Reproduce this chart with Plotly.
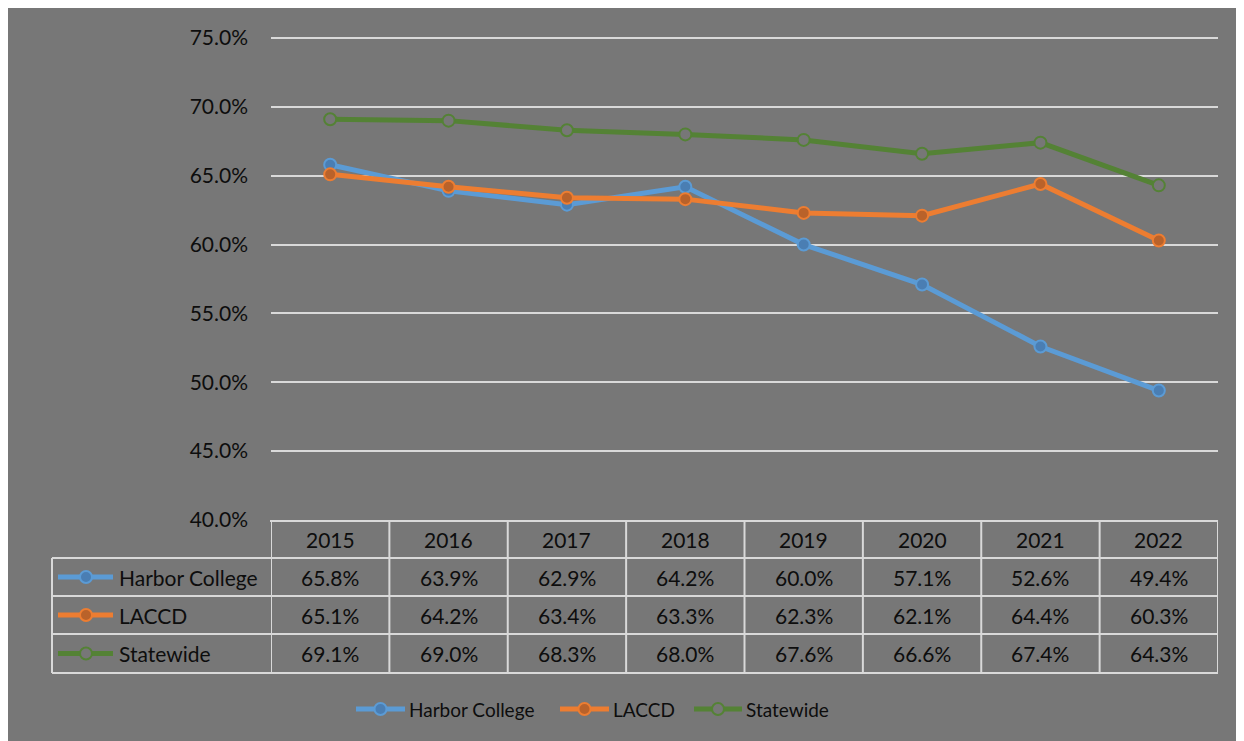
import plotly.graph_objects as go

years = ["2015", "2016", "2017", "2018", "2019", "2020", "2021", "2022"]
harbor = [65.8, 63.9, 62.9, 64.2, 60.0, 57.1, 52.6, 49.4]
laccd = [65.1, 64.2, 63.4, 63.3, 62.3, 62.1, 64.4, 60.3]
statewide = [69.1, 69.0, 68.3, 68.0, 67.6, 66.6, 67.4, 64.3]
series_names = ["Harbor College", "LACCD", "Statewide"]
y_ticks = [40, 45, 50, 55, 60, 65, 70, 75]

# page offset of the figure (browser body margin)
OX, OY = 8, 8
W, H = 1236, 733
L, R, T, B = 263, 26, 30, 221
PW, PH = W - L - R, H - T - B
FONT = "Lato, Carlito, Calibri, sans-serif"
TXT = "#0d0d0d"
BG = "#777777"
GRID = "#d9d9d9"
FS = 21
LEG_FS = 19


def px_x(p):
    return (p - OX - L) / PW


def px_y(p):
    return (H - B - (p - OY)) / PH


styles = [
    dict(line="#5b9bd5", fill="#4a7eb3"),
    dict(line="#ed7d31", fill="#b9622a"),
    dict(line="#548235", fill=BG),
]
data = [harbor, laccd, statewide]

fig = go.Figure()
for name, vals, st in zip(series_names, data, styles):
    fig.add_trace(go.Scatter(
        x=list(range(len(years))), y=vals, name=name, mode="lines+markers",
        line=dict(color=st["line"], width=5),
        marker=dict(size=12, color=st["fill"], line=dict(color=st["line"], width=2)),
        hoverinfo="skip", showlegend=False,
    ))

shapes = []
annotations = []

# top gridline at the axis maximum (plotly drops gridlines on the range edge)
shapes.append(dict(type="line", xref="paper", yref="paper", x0=0, x1=1, y0=1, y1=1,
                   layer="below", line=dict(color=GRID, width=2)))

# table geometry (page pixels)
tbl_left, tbl_mid, tbl_right = 52, 270, 1218
row_lines = [521, 558, 596, 634, 673]
line_style = dict(color=GRID, width=2)
shapes.append(dict(type="line", xref="paper", yref="paper", x0=px_x(tbl_mid), x1=px_x(tbl_right),
                   y0=px_y(row_lines[0]), y1=px_y(row_lines[0]), line=line_style))
for ry in row_lines[1:]:
    shapes.append(dict(type="line", xref="paper", yref="paper", x0=px_x(tbl_left), x1=px_x(tbl_right),
                       y0=px_y(ry), y1=px_y(ry), line=line_style))
shapes.append(dict(type="line", xref="paper", yref="paper", x0=px_x(tbl_left), x1=px_x(tbl_left),
                   y0=px_y(row_lines[1]), y1=px_y(row_lines[-1]), line=line_style))
for i in range(len(years) + 1):
    shapes.append(dict(type="line", xref="x", yref="paper", x0=i - 0.5, x1=i - 0.5,
                       y0=px_y(row_lines[0]), y1=px_y(row_lines[-1]), line=line_style))

hdr_y = (row_lines[0] + row_lines[1]) / 2
for i, yr in enumerate(years):
    annotations.append(dict(x=i, y=px_y(hdr_y), xref="x", yref="paper", text=yr, showarrow=False,
                            font=dict(family=FONT, size=FS, color=TXT), xanchor="center", yanchor="middle"))


def legend_key(x0, x1, xm, cy, st):
    shapes.append(dict(type="line", xref="paper", yref="paper", x0=px_x(x0), x1=px_x(x1),
                       y0=px_y(cy), y1=px_y(cy), line=dict(color=st["line"], width=5)))
    shapes.append(dict(type="circle", xref="paper", yref="paper", xsizemode="pixel", ysizemode="pixel",
                       xanchor=px_x(xm), yanchor=px_y(cy), x0=-6, x1=6, y0=-6, y1=6,
                       fillcolor=st["fill"], line=dict(color=st["line"], width=2)))


for r, (name, vals, st) in enumerate(zip(series_names, data, styles)):
    cy = (row_lines[r + 1] + row_lines[r + 2]) / 2
    legend_key(58, 113, 86, cy, st)
    annotations.append(dict(x=px_x(117), y=px_y(cy), xref="paper", yref="paper", text=name, showarrow=False,
                            font=dict(family=FONT, size=FS, color=TXT), xanchor="left", yanchor="middle"))
    for i, v in enumerate(vals):
        annotations.append(dict(x=i, y=px_y(cy), xref="x", yref="paper", text=f"{v:.1f}%", showarrow=False,
                                font=dict(family=FONT, size=FS, color=TXT), xanchor="center", yanchor="middle"))

# bottom legend (page pixel positions of each key)
leg_y = 709
leg_keys = [(356, 405), (560, 609), (694, 742)]
for (k0, k1), name, st in zip(leg_keys, series_names, styles):
    legend_key(k0, k1, (k0 + k1) / 2, leg_y, st)
    annotations.append(dict(x=px_x(k1 + 2), y=px_y(leg_y), xref="paper", yref="paper", text=name,
                            showarrow=False, font=dict(family=FONT, size=LEG_FS, color=TXT),
                            xanchor="left", yanchor="middle"))

fig.update_layout(
    width=W, height=H,
    margin=dict(l=L, r=R, t=T, b=B),
    paper_bgcolor=BG, plot_bgcolor=BG,
    font=dict(family=FONT, size=FS, color=TXT),
    shapes=shapes, annotations=annotations,
    showlegend=False,
    xaxis=dict(range=[-0.5, len(years) - 0.5], showticklabels=False, showgrid=False,
               zeroline=False, showline=False, ticks=""),
    yaxis=dict(range=[y_ticks[0], y_ticks[-1]], tickvals=y_ticks,
               ticktext=[f"{t:.1f}%" for t in y_ticks],
               showgrid=True, gridcolor=GRID, gridwidth=2, zeroline=False, showline=False, ticks="",
               ticklabelstandoff=22, tickfont=dict(family=FONT, size=FS, color=TXT)),
)

fig.write_html("out.html")
